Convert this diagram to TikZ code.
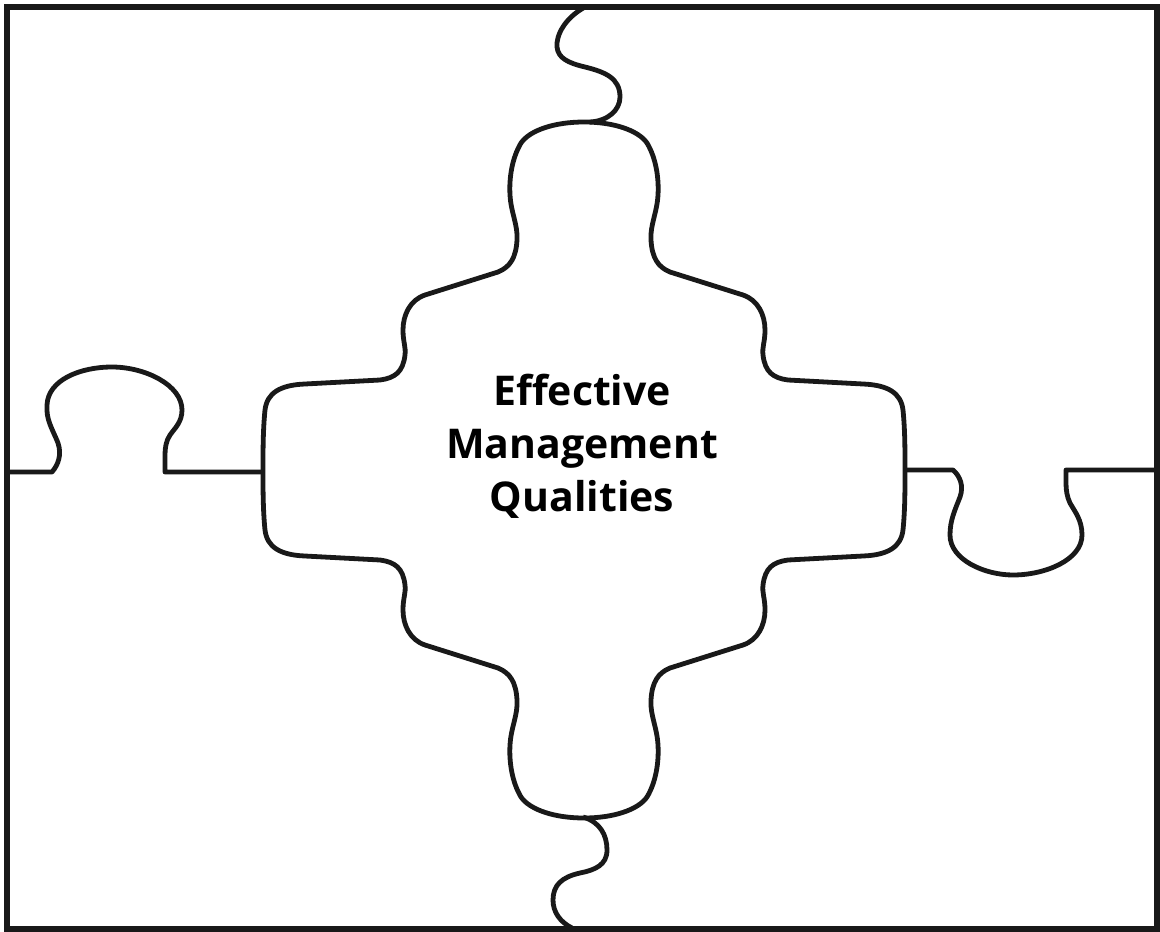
\documentclass[tikz,border=0pt]{standalone}
\usepackage{fontspec}
\setmainfont{Open Sans}
\begin{document}
\begin{tikzpicture}[x=1pt,y=-1pt,
  frameline/.style={line width=6pt,draw=black!90},
  piece/.style={line width=4.8pt,draw=black!90,line join=round,line cap=butt},
  label/.style={font=\bfseries\fontsize{41}{53}\selectfont,align=center,text=black}]
\useasboundingbox (0,0) rectangle (1160,932);
\fill[white] (0,0) rectangle (1160,932);
% outer frame
\draw[frameline] (7,7) rectangle (1157,929);
% central piece
\draw[piece] (584,122) .. controls (555,122) and (530,130) .. (521,143)
 .. controls (512,158) and (509,178) .. (510,195)
 .. controls (511,213) and (518,225) .. (517,240)
 .. controls (516,258) and (510,267) .. (498,272)
 -- (425,295)
 .. controls (410,300) and (403,315) .. (403,330)
 .. controls (403,342) and (406,347) .. (405,355)
 .. controls (403,372) and (395,378) .. (380,380)
 -- (305,384)
 .. controls (280,385) and (267,393) .. (265,410)
 .. controls (263,430) and (263,450) .. (263,470)
 .. controls (263,490) and (263,510) .. (265,530)
 .. controls (267,547) and (280,555) .. (305,556)
 -- (380,560)
 .. controls (395,562) and (403,568) .. (405,585)
 .. controls (406,593) and (403,598) .. (403,610)
 .. controls (403,625) and (410,640) .. (425,645)
 -- (498,668)
 .. controls (510,673) and (516,682) .. (517,700)
 .. controls (518,715) and (511,727) .. (510,745)
 .. controls (509,762) and (512,782) .. (521,797)
 .. controls (530,810) and (555,818) .. (584,818)
 .. controls (613,818) and (638,810) .. (647,797)
 .. controls (656,782) and (659,762) .. (658,745)
 .. controls (657,727) and (650,715) .. (651,700)
 .. controls (652,682) and (658,673) .. (670,668)
 -- (743,645)
 .. controls (758,640) and (765,625) .. (765,610)
 .. controls (765,598) and (762,593) .. (763,585)
 .. controls (765,568) and (773,562) .. (788,560)
 -- (863,556)
 .. controls (888,555) and (901,547) .. (903,530)
 .. controls (905,510) and (905,490) .. (905,470)
 .. controls (905,450) and (905,430) .. (903,410)
 .. controls (901,393) and (888,385) .. (863,384)
 -- (788,380)
 .. controls (773,378) and (765,372) .. (763,355)
 .. controls (762,347) and (765,342) .. (765,330)
 .. controls (765,315) and (758,300) .. (743,295)
 -- (670,272)
 .. controls (658,267) and (652,258) .. (651,240)
 .. controls (650,225) and (657,213) .. (658,195)
 .. controls (659,178) and (656,158) .. (647,143)
 .. controls (638,130) and (613,122) .. (584,122) -- cycle;
% top neck
\draw[piece] (585,7) .. controls (565,18) and (556,35) .. (557,47)
 .. controls (558,58) and (568,63) .. (585,67)
 .. controls (605,72) and (620,78) .. (620,97)
 .. controls (620,110) and (608,121) .. (590,122);
% bottom neck
\draw[piece] (583,817) .. controls (600,822) and (607,835) .. (607,850)
 .. controls (607,865) and (595,870) .. (580,873)
 .. controls (562,877) and (553,885) .. (553,900)
 .. controls (553,912) and (560,922) .. (572,928);
% left tab
\draw[piece] (7,472) -- (52,472) .. controls (58,465) and (62,455) .. (58,443)
 .. controls (52,428) and (46,420) .. (47,405)
 .. controls (48,380) and (80,367) .. (112,367)
 .. controls (145,367) and (182,385) .. (182,410)
 .. controls (182,422) and (175,428) .. (170,435)
 .. controls (166,441) and (165,448) .. (165,455)
 -- (165,472) -- (263,472);
% right tab
\draw[piece] (905,470) -- (953,470) .. controls (960,476) and (964,486) .. (960,497)
 .. controls (955,510) and (950,520) .. (950,535)
 .. controls (950,560) and (985,575) .. (1013,575)
 .. controls (1045,575) and (1082,560) .. (1082,535)
 .. controls (1082,520) and (1075,512) .. (1070,503)
 .. controls (1067,497) and (1066,490) .. (1066,483)
 -- (1066,470) -- (1157,470);
% label
\node[label] (title) at (582,446) {Effective\\Management\\Qualities};
\end{tikzpicture}
\end{document}
